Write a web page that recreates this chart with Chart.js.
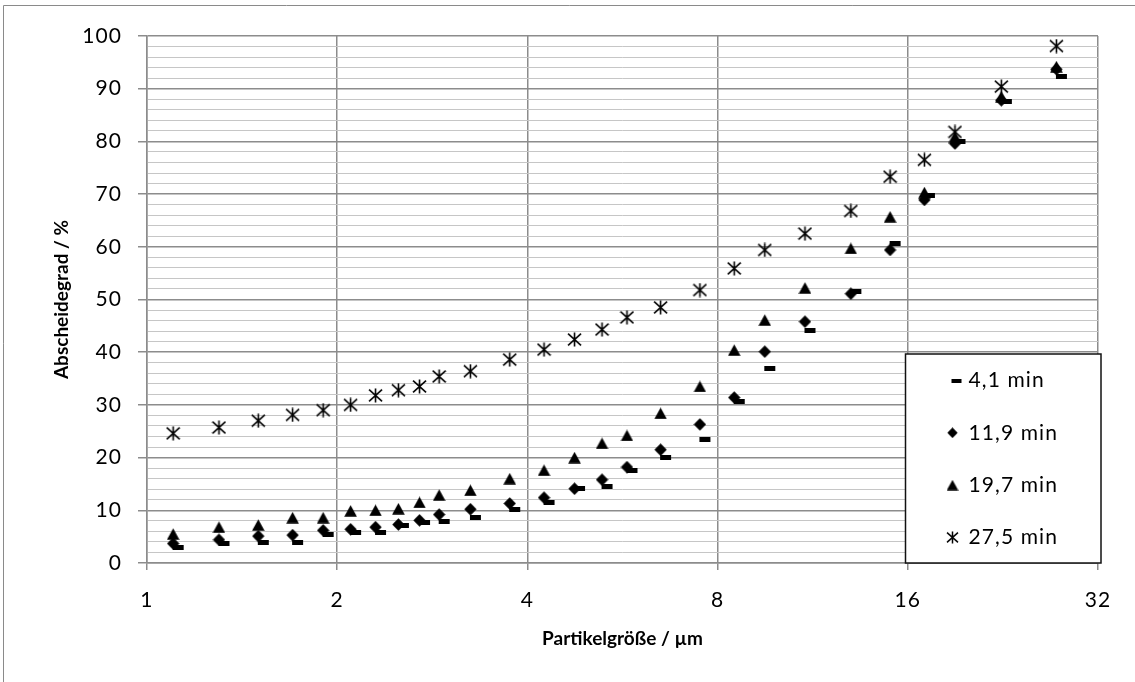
<!DOCTYPE html>
<html lang="de">
<head>
<meta charset="utf-8">
<title>Abscheidegrad über Partikelgröße</title>
<script src="https://cdn.jsdelivr.net/npm/chart.js@4.4.1/dist/chart.umd.min.js"></script>
<style>
  html, body { margin: 0; padding: 0; background: #ffffff; }
  #wrap { position: relative; width: 1135px; height: 682px; }
  canvas { display: block; }
</style>
</head>
<body>
<div id="wrap"><canvas id="chart" width="1135" height="682"></canvas></div>
<script>
// Particle size classes (µm, class mid points)
const particleSizes = [1.1, 1.3, 1.5, 1.7, 1.9, 2.1, 2.3, 2.5, 2.7, 2.9, 3.25, 3.75, 4.25, 4.75, 5.25, 5.75, 6.5, 7.5, 8.5, 9.5, 11, 13, 15, 17, 19, 22.5, 27.5];

// Separation efficiency (%) after each sampling time
const grade4_1  = [3.0, 3.7, 3.9, 3.9, 5.4, 5.7, 5.8, 7.2, 7.7, 7.8, 8.6, 10.1, 11.4, 14.1, 14.6, 17.6, 20.1, 23.4, 30.6, 37.0, 44.2, 51.5, 60.6, 69.7, 79.9, 87.6, 92.3];
const grade11_9 = [3.7, 4.4, 5.1, 5.3, 6.2, 6.4, 6.8, 7.3, 8.1, 9.2, 10.2, 11.3, 12.4, 14.1, 15.8, 18.2, 21.5, 26.3, 31.4, 40.1, 45.8, 51.1, 59.4, 68.9, 79.6, 87.8, 93.7];
const grade19_7 = [5.5, 6.8, 7.2, 8.6, 8.6, 9.9, 10.0, 10.3, 11.5, 12.9, 13.8, 16.0, 17.6, 20.0, 22.7, 24.2, 28.4, 33.5, 40.4, 46.1, 52.2, 59.7, 65.7, 70.3, 80.9, 88.5, 94.2];
const grade27_5 = [24.6, 25.7, 27.0, 28.1, 29.0, 30.0, 31.8, 32.8, 33.5, 35.4, 36.4, 38.6, 40.5, 42.4, 44.3, 46.6, 48.5, 51.8, 55.9, 59.4, 62.5, 66.8, 73.3, 76.5, 81.8, 90.4, 98.1];

const seriesLabels = ['4,1 min', '11,9 min', '19,7 min', '27,5 min'];

// Axis ticks
const xTickValues = [1, 2, 4, 8, 16, 32];
const xTickLabels = ['1', '2', '4', '8', '16', '32'];
const yMin = 0, yMax = 100, yMinorStep = 2, yMajorStep = 10;

// ---- styling ----
const FONT = 'Lato';
const TEXT_SIZE = 21;
const TITLE_SIZE = 19;
const TEXT_TRACKING = '1.1px';   // extra spacing for the regular (non-bold) labels
const MAJOR_GRID = '#8c8c8c';
const MINOR_GRID = '#c6c6c6';
const INK = '#000000';

Chart.defaults.font.family = FONT;
Chart.defaults.font.size = TEXT_SIZE;
Chart.defaults.color = INK;

// Marker glyphs drawn once into small canvases
function glyph(w, h, paint) {
  const c = document.createElement('canvas');
  c.width = w; c.height = h;
  const g = c.getContext('2d');
  g.fillStyle = INK; g.strokeStyle = INK;
  paint(g, w, h);
  return c;
}
function dashGlyph(w, h, len, shift) {
  // short bar, sitting a little right of the anchor point
  return glyph(w, h, (g) => { g.fillRect(w / 2 + shift - len / 2, 0, len, h); });
}
function diamondGlyph(s) {
  return glyph(s, s, (g) => {
    const m = s / 2;
    g.beginPath();
    g.moveTo(m, 0.3); g.lineTo(s - 0.3, m); g.lineTo(m, s - 0.3); g.lineTo(0.3, m);
    g.closePath(); g.fill();
  });
}
function triangleGlyph(w, h) {
  return glyph(w, h, (g) => {
    g.beginPath();
    g.moveTo(w / 2, 0.2); g.lineTo(w - 0.2, h - 0.3); g.lineTo(0.2, h - 0.3);
    g.closePath(); g.fill();
  });
}
function starGlyph(s, lw) {
  return glyph(s, s, (g) => {
    const m = s / 2, a = s / 2 - 1, b = s / 2 - 1.6;
    g.lineWidth = lw;
    g.beginPath();
    g.moveTo(m, 0.5); g.lineTo(m, s - 0.5);
    g.moveTo(m - a, m - b); g.lineTo(m + a, m + b);
    g.moveTo(m + a, m - b); g.lineTo(m - a, m + b);
    g.stroke();
  });
}

const plotMarkers = [
  dashGlyph(23, 5, 11, 5),
  diamondGlyph(13),
  triangleGlyph(13, 12),
  starGlyph(15, 1.6)
];
const legendMarkers = [
  dashGlyph(19, 4, 10, 4),
  diamondGlyph(11),
  triangleGlyph(12, 11),
  starGlyph(13, 1.5)
];

const seriesValues = [grade4_1, grade11_9, grade19_7, grade27_5];

const datasets = seriesValues.map((vals, i) => ({
  label: seriesLabels[i],
  data: particleSizes.map((x, k) => ({ x: x, y: vals[k] })),
  pointStyle: plotMarkers[i],
  pointRadius: 6,
  showLine: false,
  // later series are painted on top
  order: seriesValues.length - i
}));

// Regular labels get a little letter spacing, bold titles stay as they are
const canvas = document.getElementById('chart');
(function trackRegularText(ctx) {
  const proto = CanvasRenderingContext2D.prototype;
  const withTracking = (fn) => function () {
    const prev = this.letterSpacing;
    this.letterSpacing = /bold|[6-9]00/.test(this.font) ? '0px' : TEXT_TRACKING;
    const out = fn.apply(this, arguments);
    this.letterSpacing = prev;
    return out;
  };
  ctx.fillText = withTracking(proto.fillText);
  ctx.measureText = withTracking(proto.measureText);
})(canvas.getContext('2d'));

// Outer frame of the chart sheet (top and left edge)
const sheetFrame = {
  id: 'sheetFrame',
  beforeDraw(chart) {
    const ctx = chart.ctx;
    ctx.save();
    ctx.strokeStyle = '#8a8a8a';
    ctx.lineWidth = 1;
    ctx.beginPath();
    ctx.moveTo(3.5, chart.height);
    ctx.lineTo(3.5, 5.5);
    ctx.lineTo(chart.width, 5.5);
    ctx.stroke();
    ctx.restore();
  }
};

// Legend sits in a framed white box in the lower right corner of the plot
const LEGEND_BOX = { left: 905.5, top: 354, right: 1101, bottom: 563 };
const LEGEND_FIRST = { x: 947, y: 370 };

const legendFrame = {
  id: 'legendFrame',
  afterLayout(chart) {
    const lg = chart.legend;
    const pad = lg.options.labels.padding;
    lg.left = LEGEND_FIRST.x - pad;
    lg.top = LEGEND_FIRST.y - pad;
    lg.right = chart.width;
    lg.bottom = chart.height;
    lg.width = lg.right - lg.left;
    lg.height = lg.bottom - lg.top;
  },
  afterDatasetsDraw(chart) {
    const ctx = chart.ctx;
    const b = LEGEND_BOX;
    ctx.save();
    ctx.fillStyle = '#ffffff';
    ctx.fillRect(b.left, b.top, b.right - b.left, b.bottom - b.top);
    ctx.strokeStyle = '#111111';
    ctx.lineWidth = 1.5;
    ctx.strokeRect(b.left, b.top, b.right - b.left, b.bottom - b.top);
    ctx.restore();
    chart.legend.draw();
  }
};

const isMajor = (v) => Math.round(v) % yMajorStep === 0;

new Chart(canvas, {
  type: 'scatter',
  data: { datasets: datasets },
  plugins: [sheetFrame, legendFrame],
  options: {
    responsive: false,
    animation: false,
    devicePixelRatio: 1,
    layout: { padding: { left: 0, right: 37, top: 36, bottom: 0 } },
    plugins: {
      tooltip: { enabled: false },
      legend: {
        position: 'chartArea',
        align: 'start',
        labels: {
          usePointStyle: true,
          boxWidth: 11,
          boxHeight: 11,
          padding: 31.3,
          color: INK,
          font: { family: FONT, size: TEXT_SIZE },
          generateLabels(chart) {
            const items = Chart.defaults.plugins.legend.labels.generateLabels(chart);
            items.sort((a, b) => a.datasetIndex - b.datasetIndex);
            items.forEach((it) => { it.pointStyle = legendMarkers[it.datasetIndex]; });
            return items;
          }
        }
      }
    },
    scales: {
      x: {
        type: 'logarithmic',
        position: 'bottom',
        min: xTickValues[0],
        max: xTickValues[xTickValues.length - 1],
        afterBuildTicks(scale) {
          scale.ticks = xTickValues.map((v) => ({ value: v }));
        },
        afterFit(scale) { scale.height = 119; },
        ticks: {
          autoSkip: false,
          maxRotation: 0,
          padding: 18,
          color: INK,
          font: { family: FONT, size: TEXT_SIZE },
          callback(value) {
            const i = xTickValues.indexOf(value);
            return i >= 0 ? xTickLabels[i] : '';
          }
        },
        grid: { color: MAJOR_GRID, lineWidth: 1.5, tickLength: 7, tickColor: MAJOR_GRID },
        border: { display: true, color: MAJOR_GRID, width: 1.5 },
        title: {
          display: true,
          text: 'Partikelgröße / µm',
          color: INK,
          font: { family: FONT, size: TITLE_SIZE, weight: 'bold' },
          padding: { top: 0, bottom: 32 }
        }
      },
      y: {
        type: 'linear',
        position: 'left',
        min: yMin,
        max: yMax,
        afterFit(scale) { scale.width = 147; },
        ticks: {
          stepSize: yMinorStep,
          autoSkip: false,
          padding: 16,
          color: INK,
          font: { family: FONT, size: TEXT_SIZE },
          callback(value) { return isMajor(value) ? String(value) : ''; }
        },
        grid: {
          color: (c) => isMajor(c.tick.value) ? MAJOR_GRID : MINOR_GRID,
          lineWidth: (c) => isMajor(c.tick.value) ? 1.5 : 1,
          tickColor: (c) => isMajor(c.tick.value) ? MAJOR_GRID : 'rgba(0,0,0,0)',
          tickLength: 9
        },
        border: { display: true, color: MAJOR_GRID, width: 1.5 },
        title: {
          display: true,
          text: 'Abscheidegrad / %',
          color: INK,
          font: { family: FONT, size: TITLE_SIZE, weight: 'bold' },
          padding: { top: 50.5, bottom: 0 }
        }
      }
    }
  }
});
</script>
</body>
</html>
